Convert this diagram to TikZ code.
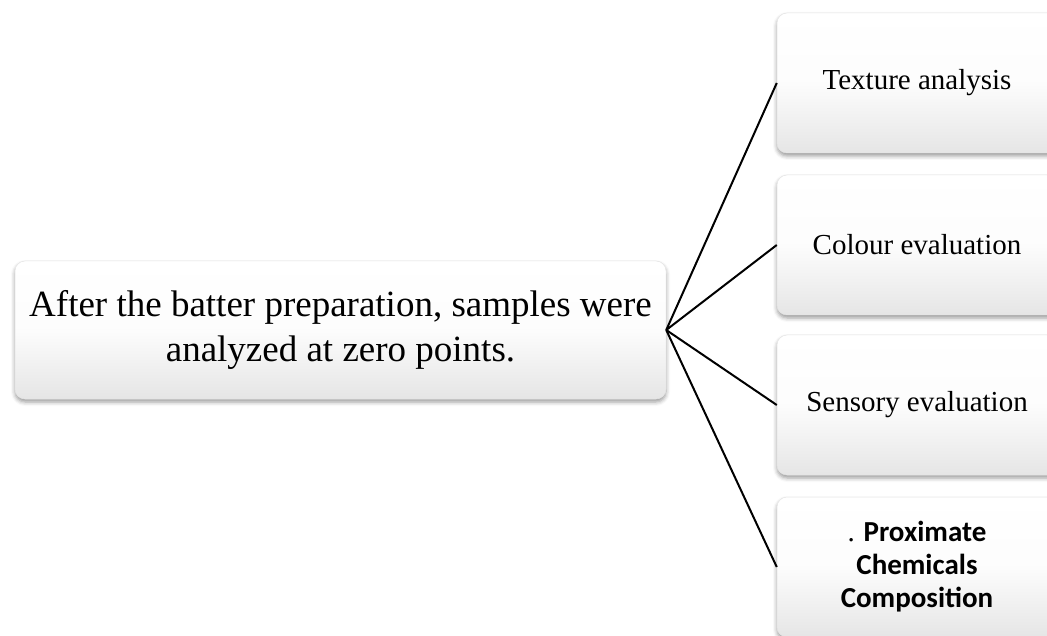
\documentclass[tikz,border=0pt]{standalone}
\usepackage{fontspec}
\setmainfont{Liberation Serif}
\newfontfamily\calib{Carlito}
\usetikzlibrary{shadows.blur}
\tikzset{
  boxstyle/.style={rounded corners=10pt, top color=white, bottom color=black!10, middle color=white!99!black,
    draw=black!10, line width=0.5pt, inner sep=0pt, align=center,
    blur shadow={shadow xshift=0pt, shadow yshift=-3pt, shadow blur radius=4pt, shadow opacity=40}},
  mainbox/.style={boxstyle, minimum width=651pt, minimum height=138pt,
    font=\fontsize{37}{45}\selectfont},
  sidebox/.style={boxstyle, minimum width=280pt, minimum height=140pt,
    font=\fontsize{29}{34}\selectfont},
  boldbox/.style={sidebox, font=\calib\bfseries\fontsize{29}{33}\selectfont},
  conn/.style={draw=black, line width=2pt}
}
\begin{document}
\begin{tikzpicture}[x=1pt,y=-1pt]
\useasboundingbox (0,0) rectangle (1047,636);
\node[mainbox] (main) at (340.5,330) {After the batter preparation, samples were\\analyzed at zero points.};
\node[sidebox] (b1) at (917,83) {Texture analysis};
\node[sidebox] (b2) at (917,245) {Colour evaluation};
\node[sidebox] (b3) at (917,405) {Sensory evaluation};
\node[boldbox] (b4) at (917,567) {{\rmfamily\mdseries .} Proximate\\Chemicals\\Composition};
\draw[conn] (main.east) -- (b1.west);
\draw[conn] (main.east) -- (b2.west);
\draw[conn] (main.east) -- (b3.west);
\draw[conn] (main.east) -- (b4.west);
\end{tikzpicture}
\end{document}
